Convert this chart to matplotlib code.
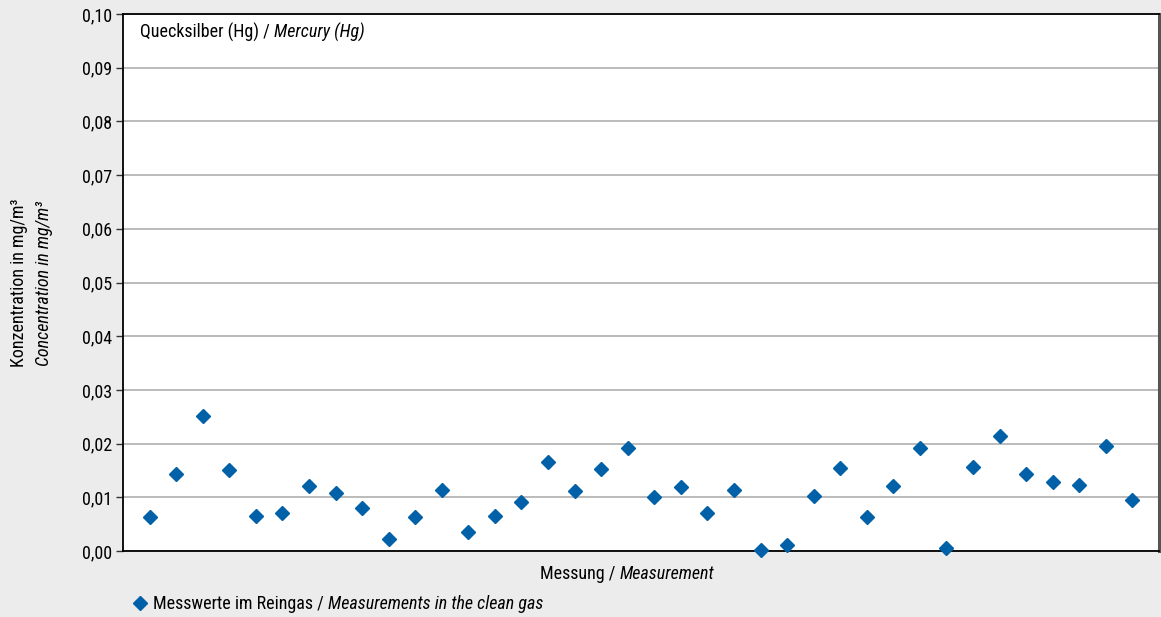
import matplotlib
matplotlib.use('Agg')
import matplotlib.pyplot as plt
from matplotlib.lines import Line2D
import numpy as np

plt.rcParams['font.family'] = ['Liberation Sans Narrow', 'Roboto Condensed', 'PT Sans Narrow',
                               'Archivo Narrow', 'DejaVu Sans']

# measurement values (mg/m3), one per measurement
werte = [0.0063, 0.0143, 0.0251, 0.0151, 0.0065, 0.0071, 0.0121, 0.0108, 0.0080, 0.0022,
         0.0063, 0.0114, 0.0035, 0.0065, 0.0091, 0.0166, 0.0112, 0.0153, 0.0192, 0.0101,
         0.0119, 0.0071, 0.0114, 0.0002, 0.0011, 0.0102, 0.0155, 0.0063, 0.0121, 0.0192,
         0.0006, 0.0156, 0.0214, 0.0143, 0.0128, 0.0123, 0.0196, 0.0095]
messung = np.arange(1, len(werte) + 1)
yticks = [0.00, 0.01, 0.02, 0.03, 0.04, 0.05, 0.06, 0.07, 0.08, 0.09, 0.10]

blau = '#0061a9'
bg = '#ebeceb'
fs = 13

fig = plt.figure(figsize=(11.61, 6.17), dpi=100, facecolor=bg)
ax = fig.add_axes([123/1161, 1 - 551/617, (1159 - 123)/1161, (551 - 14)/617])
ax.set_facecolor('white')

ax.plot(messung, werte, linestyle='none', marker='D', markersize=7.2,
        color=blau, zorder=3, clip_on=False)

ax.set_xlim(0, len(werte) + 1)
ax.set_ylim(0, 0.10)
ax.set_yticks(yticks)
ax.set_yticklabels([('%.2f' % v).replace('.', ',') for v in yticks], fontsize=fs)
ax.set_xticks([])
ax.tick_params(axis='y', length=5, width=1, pad=3, color='#333333')
ax.yaxis.grid(True, color='#b5b5b5', linewidth=1.3)
ax.set_axisbelow(True)

for s in ['left', 'bottom', 'top']:
    ax.spines[s].set_color('black')
    ax.spines[s].set_linewidth(1.3)
ax.spines['right'].set_color('#555555')
ax.spines['right'].set_linewidth(2.2)


def zwei_teile(first, second, x, y):
    t1 = fig.text(x, y, first, fontsize=fs, va='center', ha='left')
    ax.annotate(second, xy=(1, 0), xycoords=t1, fontsize=fs, style='italic',
                va='bottom', ha='left')
    return t1


# title inside the plot
zwei_teile('Quecksilber (Hg) / ', 'Mercury (Hg)', 140/1161, 1 - 32/617)

# x label
zwei_teile('Messung / ', 'Measurement', 540/1161, 1 - 574/617)

# y label, two lines
fig.text(19/1161, 1 - 283/617, 'Konzentration in mg/m³', rotation=90,
         fontsize=fs, ha='center', va='center')
fig.text(44/1161, 1 - 283/617, 'Concentration in mg/m³', rotation=90,
         fontsize=fs, ha='center', va='center', style='italic')

# legend
fig.add_artist(Line2D([140/1161], [1 - 603/617], linestyle='none', marker='D',
                      markersize=7.2, color=blau, transform=fig.transFigure))
zwei_teile('Messwerte im Reingas / ', 'Measurements in the clean gas', 153/1161, 1 - 604/617)

fig.savefig('out.png', dpi=100, facecolor=bg)
